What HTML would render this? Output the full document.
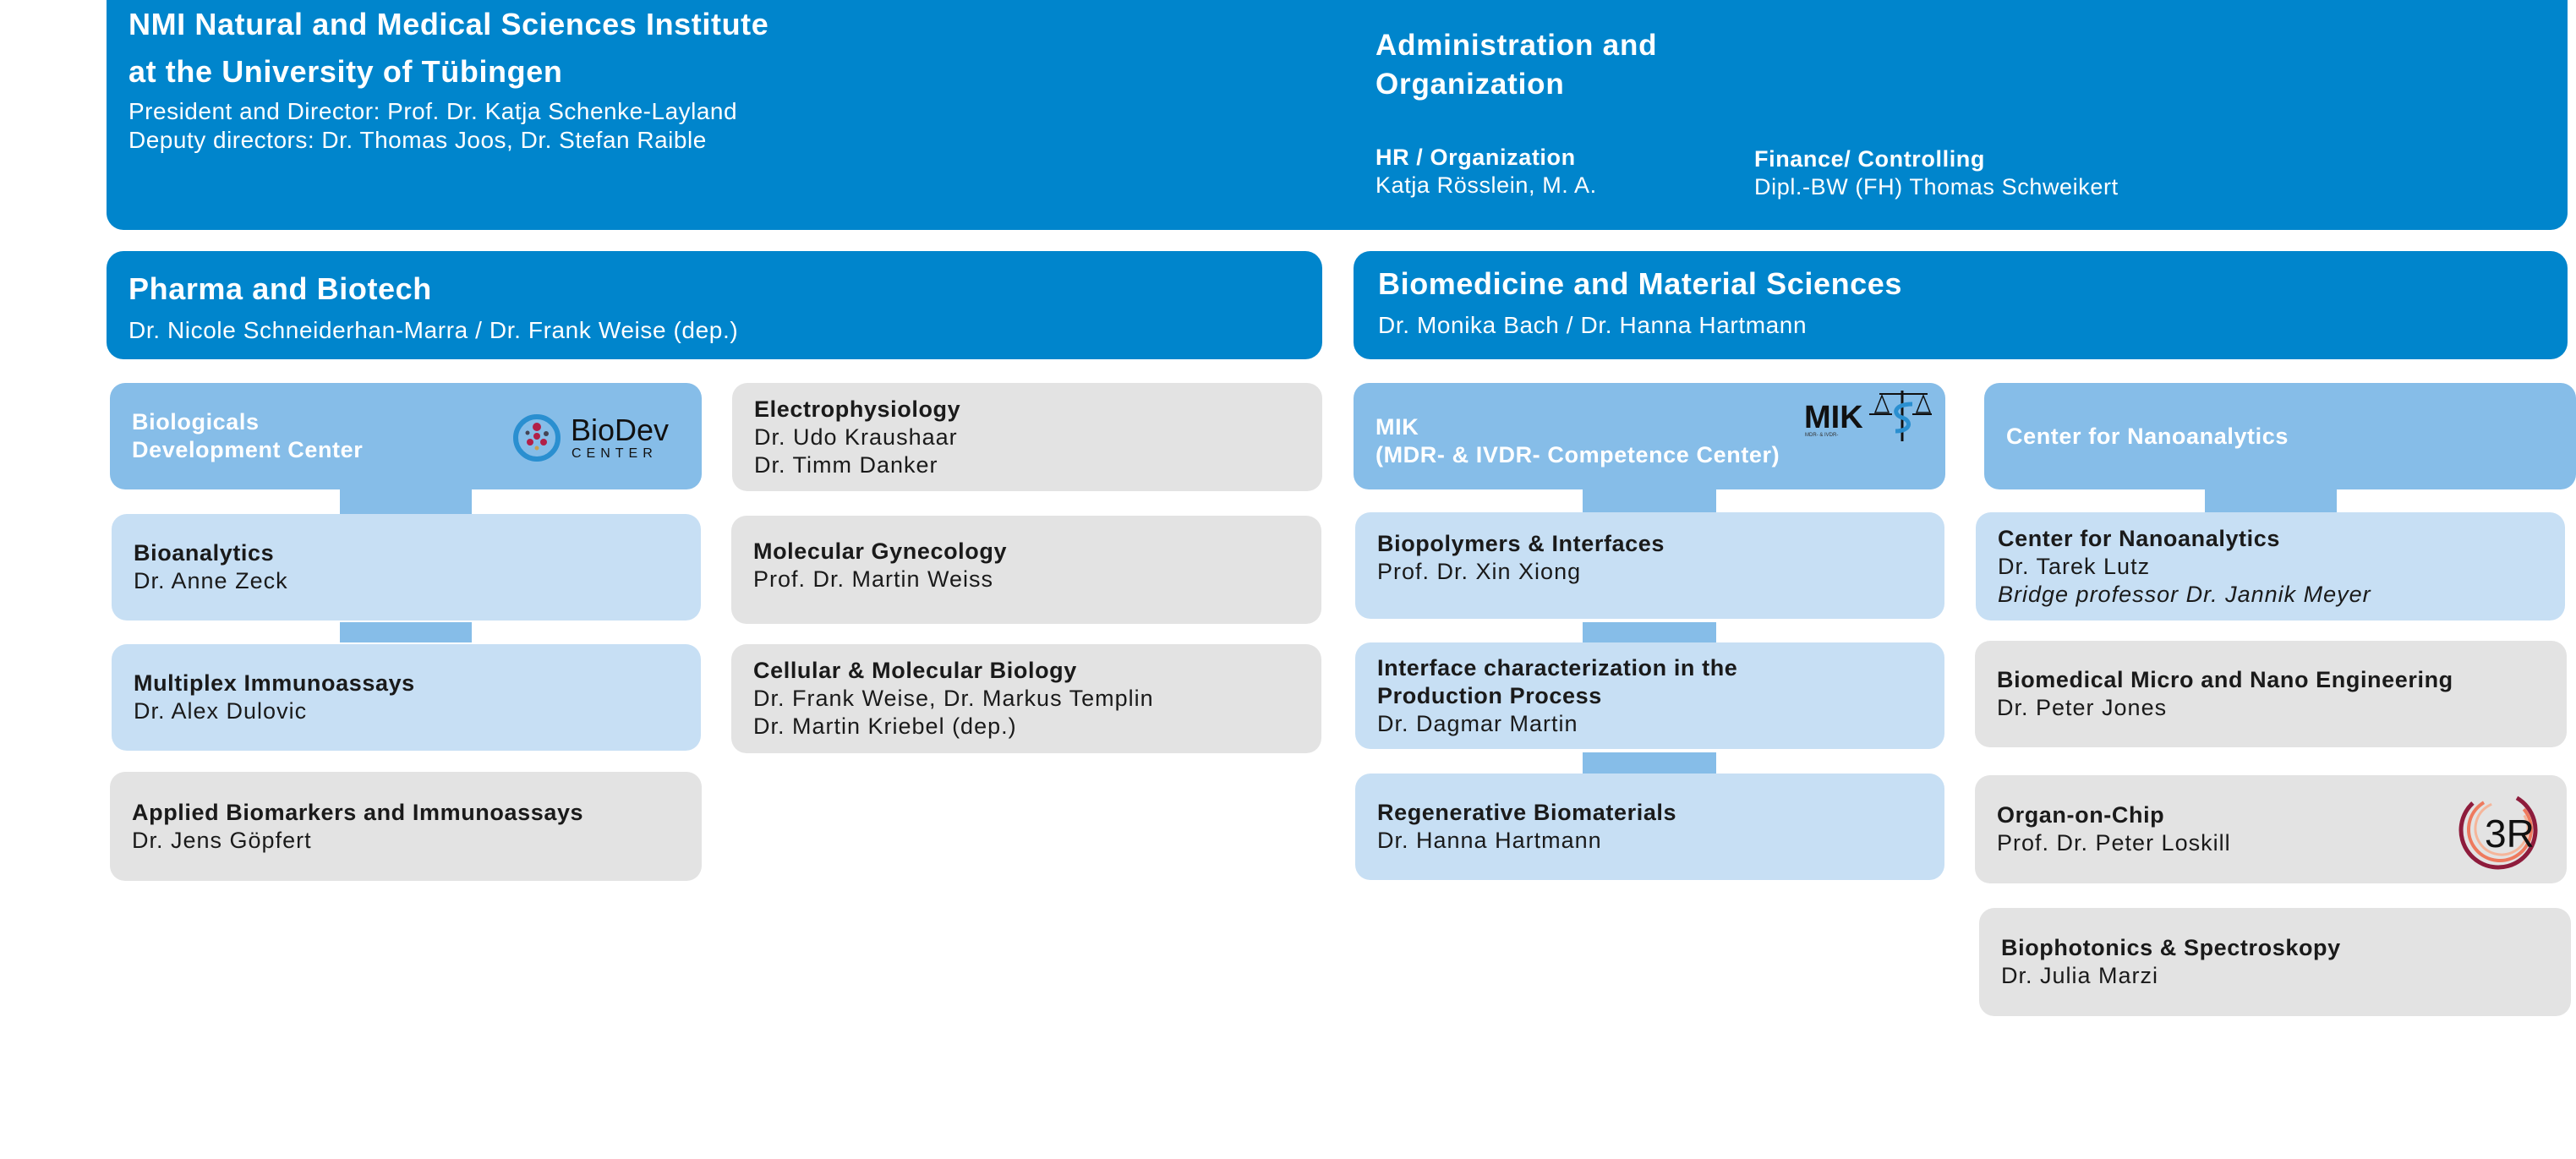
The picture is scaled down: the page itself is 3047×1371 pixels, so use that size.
<!DOCTYPE html>
<html><head><meta charset="utf-8"><style>
*{margin:0;padding:0;box-sizing:border-box}
body{width:3047px;height:1371px;background:#fff;position:relative;overflow:hidden;font-family:"Liberation Sans",sans-serif;color:#1a1a1a}
.a{position:absolute}
.dk{background:#0085cc;color:#fff;border-radius:20px}
.hd{background:#86bde8;color:#fff;border-radius:18px}
.lt{background:#c7dff4;border-radius:18px}
.gr{background:#e3e3e3;border-radius:18px}
.bx{position:absolute;display:flex;flex-direction:column;justify-content:center;padding-left:26px;font-size:27px;line-height:33px;letter-spacing:1px}
.bx b{font-weight:bold;letter-spacing:0.6px}
.cn{position:absolute;background:#86bde8}
.t{position:absolute;white-space:nowrap}
</style></head><body>
<div class="a dk" style="left:126px;top:-20px;width:2911px;height:292px"></div>
<div class="t" style="left:152px;top:8px;font-size:36px;font-weight:bold;color:#fff;letter-spacing:0.6px">NMI Natural and Medical Sciences Institute</div>
<div class="t" style="left:152px;top:64px;font-size:36px;font-weight:bold;color:#fff;letter-spacing:0.6px">at the University of Tübingen</div>
<div class="t" style="left:152px;top:116px;font-size:28px;color:#fff;letter-spacing:0.5px">President and Director: Prof. Dr. Katja Schenke-Layland</div>
<div class="t" style="left:152px;top:150px;font-size:28px;color:#fff;letter-spacing:0.5px">Deputy directors: Dr. Thomas Joos, Dr. Stefan Raible</div>
<div class="t" style="left:1627px;top:31px;font-size:35px;font-weight:bold;color:#fff;line-height:46px;letter-spacing:0.8px">Administration and<br>Organization</div>
<div class="t" style="left:1627px;top:170px;font-size:27px;color:#fff;line-height:33px;letter-spacing:0.6px"><b>HR / Organization</b><br>Katja Rösslein, M. A.</div>
<div class="t" style="left:2075px;top:172px;font-size:27px;color:#fff;line-height:33px;letter-spacing:0.6px"><b>Finance/ Controlling</b><br>Dipl.-BW (FH) Thomas Schweikert</div>

<div class="a dk" style="left:126px;top:297px;width:1438px;height:128px"></div>
<div class="t" style="left:152px;top:321px;font-size:36px;font-weight:bold;color:#fff;letter-spacing:0.6px">Pharma and Biotech</div>
<div class="t" style="left:152px;top:375px;font-size:28px;color:#fff;letter-spacing:0.6px">Dr. Nicole Schneiderhan-Marra / Dr. Frank Weise (dep.)</div>
<div class="a dk" style="left:1601px;top:297px;width:1436px;height:128px"></div>
<div class="t" style="left:1630px;top:315px;font-size:36px;font-weight:bold;color:#fff;letter-spacing:0.6px">Biomedicine and Material Sciences</div>
<div class="t" style="left:1630px;top:369px;font-size:28px;color:#fff;letter-spacing:0.6px">Dr. Monika Bach / Dr. Hanna Hartmann</div>

<!-- col1 -->
<div class="cn" style="left:402px;top:570px;width:156px;height:40px"></div>
<div class="cn" style="left:402px;top:736px;width:156px;height:24px"></div>
<div class="bx hd" style="left:130px;top:453px;width:700px;height:126px;color:#fff"><b>Biologicals<br>Development Center</b></div>
<svg class="a" style="left:600px;top:485px" width="200" height="70">
<circle cx="35" cy="33" r="25" fill="none" stroke="#2a8fd0" stroke-width="6"/>
<circle cx="35" cy="20" r="5" fill="#b22048"/><circle cx="35" cy="31" r="4" fill="#b22048"/>
<circle cx="27" cy="38" r="4" fill="#b22048"/><circle cx="43" cy="38" r="4" fill="#b22048"/>
<circle cx="24" cy="27" r="2.5" fill="#445"/><circle cx="46" cy="28" r="3" fill="#445"/><circle cx="35" cy="45" r="2.5" fill="#c9a050"/>
<text x="75" y="36" font-size="36" fill="#111" font-family="Liberation Sans">BioDev</text>
<text x="76" y="56" font-size="16" letter-spacing="6" fill="#111" font-family="Liberation Sans">CENTER</text>
</svg>
<div class="bx lt" style="left:132px;top:608px;width:697px;height:126px"><b>Bioanalytics</b>Dr. Anne Zeck</div>
<div class="bx lt" style="left:132px;top:762px;width:697px;height:126px"><b>Multiplex Immunoassays</b>Dr. Alex Dulovic</div>
<div class="bx gr" style="left:130px;top:913px;width:700px;height:129px"><b>Applied Biomarkers and Immunoassays</b>Dr. Jens Göpfert</div>

<!-- col2 -->
<div class="bx gr" style="left:866px;top:453px;width:698px;height:128px"><b>Electrophysiology</b>Dr. Udo Kraushaar<br>Dr. Timm Danker</div>
<div class="bx gr" style="left:865px;top:610px;width:698px;height:128px;padding-bottom:10px"><b>Molecular Gynecology</b>Prof. Dr. Martin Weiss</div>
<div class="bx gr" style="left:865px;top:762px;width:698px;height:129px"><b>Cellular &amp; Molecular Biology</b>Dr. Frank Weise, Dr. Markus Templin<br>Dr. Martin Kriebel (dep.)</div>

<!-- col3 -->
<div class="cn" style="left:1872px;top:570px;width:158px;height:40px"></div>
<div class="cn" style="left:1872px;top:736px;width:158px;height:24px"></div>
<div class="cn" style="left:1872px;top:890px;width:158px;height:25px"></div>
<div class="bx hd" style="left:1601px;top:453px;width:700px;height:126px;color:#fff;padding-top:12px"><b>MIK<br>(MDR- &amp; IVDR- Competence Center)</b></div>
<svg class="a" style="left:2130px;top:458px" width="170" height="70">
<text x="4" y="48" font-size="38" font-weight="bold" fill="#111" font-family="Liberation Sans">MIK</text>
<text x="5" y="58" font-size="6" fill="#333" font-family="Liberation Sans">MDR- &amp; IVDR-</text>
<line x1="93" y1="8" x2="150" y2="8" stroke="#111" stroke-width="2"/>
<path d="M96 10 L88 30 L104 30 Z M145 10 L137 30 L153 30 Z" fill="none" stroke="#111" stroke-width="1.5"/>
<line x1="81" y1="32" x2="108" y2="32" stroke="#111" stroke-width="2"/>
<line x1="132" y1="32" x2="155" y2="32" stroke="#111" stroke-width="2"/>
<line x1="120" y1="4" x2="120" y2="64" stroke="#111" stroke-width="3"/>
<path d="M132 20 C110 20 108 32 120 36 C132 40 130 52 112 52" fill="none" stroke="#2a8fd0" stroke-width="5"/>
</svg>
<div class="bx lt" style="left:1603px;top:606px;width:697px;height:126px;padding-bottom:18px"><b>Biopolymers &amp; Interfaces</b>Prof. Dr. Xin Xiong</div>
<div class="bx lt" style="left:1603px;top:760px;width:697px;height:126px"><b>Interface characterization in the<br>Production Process</b>Dr. Dagmar Martin</div>
<div class="bx lt" style="left:1603px;top:915px;width:697px;height:126px"><b>Regenerative Biomaterials</b>Dr. Hanna Hartmann</div>

<!-- col4 -->
<div class="cn" style="left:2608px;top:570px;width:156px;height:40px"></div>
<div class="bx hd" style="left:2347px;top:453px;width:700px;height:126px;color:#fff"><b>Center for Nanoanalytics</b></div>
<div class="bx lt" style="left:2337px;top:606px;width:697px;height:128px"><b>Center for Nanoanalytics</b>Dr. Tarek Lutz<br><i>Bridge professor Dr. Jannik Meyer</i></div>
<div class="bx gr" style="left:2336px;top:758px;width:700px;height:126px"><b>Biomedical Micro and Nano Engineering</b>Dr. Peter Jones</div>
<div class="bx gr" style="left:2336px;top:917px;width:700px;height:128px"><b>Organ-on-Chip</b>Prof. Dr. Peter Loskill</div>
<svg class="a" style="left:2905px;top:932px" width="100" height="100">
<circle cx="50" cy="50" r="44" fill="none" stroke="#8e1c3c" stroke-width="5" stroke-dasharray="220 60" transform="rotate(-60 50 50)"/>
<circle cx="52" cy="49" r="37" fill="none" stroke="#ee7a5e" stroke-width="4" stroke-dasharray="180 60" transform="rotate(-40 52 49)"/>
<circle cx="54" cy="48" r="31" fill="none" stroke="#f5b59a" stroke-width="3" stroke-dasharray="150 50" transform="rotate(-30 54 48)"/>
<text x="34" y="70" font-size="46" fill="#111" font-family="Liberation Sans">3R</text>
</svg>
<div class="bx gr" style="left:2341px;top:1074px;width:700px;height:128px"><b>Biophotonics &amp; Spectroskopy</b>Dr. Julia Marzi</div>
</body></html>
